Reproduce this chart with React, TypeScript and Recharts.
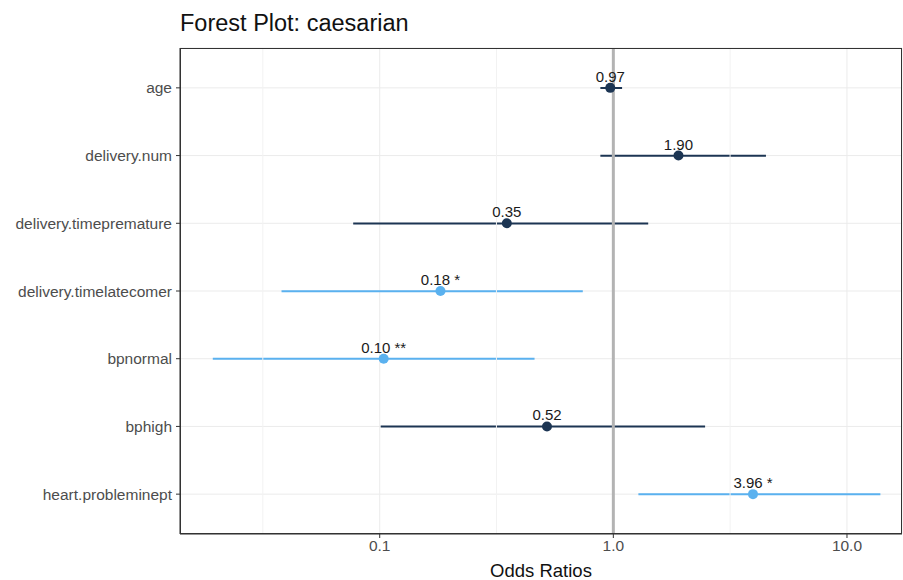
import React from "react";
import {
  ComposedChart,
  Bar,
  Line,
  Cell,
  XAxis,
  YAxis,
  CartesianGrid,
  ReferenceLine,
  LabelList,
} from "recharts";

const terms = [
  "age",
  "delivery.num",
  "delivery.timepremature",
  "delivery.timelatecomer",
  "bpnormal",
  "bphigh",
  "heart.probleminept",
];
const oddsRatios = [0.97, 1.9, 0.35, 0.182, 0.104, 0.52, 3.96];
const ciLow = [0.88, 0.88, 0.077, 0.038, 0.0193, 0.101, 1.28];
const ciHigh = [1.09, 4.5, 1.41, 0.74, 0.46, 2.47, 13.9];
const stars = ["", "", "", "*", "**", "", "*"];
const xTicks = [0.1, 1, 10];
const minorTicks = [0.0316, 0.316, 3.16];

const DARK = "#1c3553";
const LIGHT = "#5ab1ef";

const data = terms.map((term, i) => ({
  term,
  or: oddsRatios[i],
  ci: [ciLow[i], ciHigh[i]],
  label: oddsRatios[i].toFixed(2) + (stars[i] ? " " + stars[i] : ""),
  color: stars[i] ? LIGHT : DARK,
}));

const font = "'Liberation Sans', Arial, sans-serif";

const Dot = (props: any) => {
  const { cx, cy, payload } = props;
  if (cx == null || cy == null) return null;
  return <circle cx={cx} cy={cy} r={5} fill={payload.color} />;
};

export default function App() {
  return (
    <div
      style={{
        position: "absolute",
        left: 0,
        top: 0,
        width: 903,
        height: 580,
        background: "#fff",
        fontFamily: font,
      }}
    >
      <div
        style={{
          position: "absolute",
          left: 180,
          top: 10,
          fontSize: 23.5,
          lineHeight: "27px",
          color: "#111",
        }}
      >
        Forest Plot: caesarian
      </div>
      <ComposedChart
        width={903}
        height={580}
        data={data}
        layout="vertical"
        margin={{ top: 48, right: 1, bottom: 0, left: 0 }}
      >
        <CartesianGrid stroke="#ebebeb" strokeWidth={1} />
        {minorTicks.map((v) => (
          <ReferenceLine key={v} x={v} stroke="#f2f2f2" strokeWidth={1} />
        ))}
        <ReferenceLine x={1} stroke="#b3b3b3" strokeWidth={3} />
        <XAxis
          type="number"
          scale="log"
          domain={[0.01397, 17.2]}
          allowDataOverflow
          ticks={xTicks}
          tickFormatter={(v: number) => v.toFixed(1)}
          height={46}
          tickSize={4}
          tickMargin={2}
          stroke="#333"
          tick={{ fill: "#4d4d4d", fontSize: 15.5, fontFamily: font }}
          label={(p: any) => {
            const vb = p.viewBox;
            return (
              <text
                x={vb.x + vb.width / 2}
                y={577}
                textAnchor="middle"
                fill="#111"
                fontSize={18.5}
                fontFamily={font}
              >
                Odds Ratios
              </text>
            );
          }}
        />
        <YAxis
          type="category"
          dataKey="term"
          width={180}
          padding={{ top: 6, bottom: 6 }}
          tickSize={4}
          tickMargin={4}
          stroke="#333"
          tick={{ fill: "#4d4d4d", fontSize: 15.5, fontFamily: font }}
        />
        <Bar dataKey="ci" barSize={2} isAnimationActive={false}>
          {data.map((d) => (
            <Cell key={d.term} fill={d.color} />
          ))}
        </Bar>
        <Line
          dataKey="or"
          stroke="none"
          dot={<Dot />}
          activeDot={false}
          isAnimationActive={false}
        >
          <LabelList
            dataKey="label"
            position="top"
            offset={6}
            fill="#1a1a1a"
            fontSize={15}
            fontFamily={font}
          />
        </Line>
      </ComposedChart>
      <div
        style={{
          position: "absolute",
          left: 180,
          top: 48,
          width: 722,
          height: 486,
          boxSizing: "border-box",
          border: "1px solid #333",
          pointerEvents: "none",
        }}
      />
    </div>
  );
}
